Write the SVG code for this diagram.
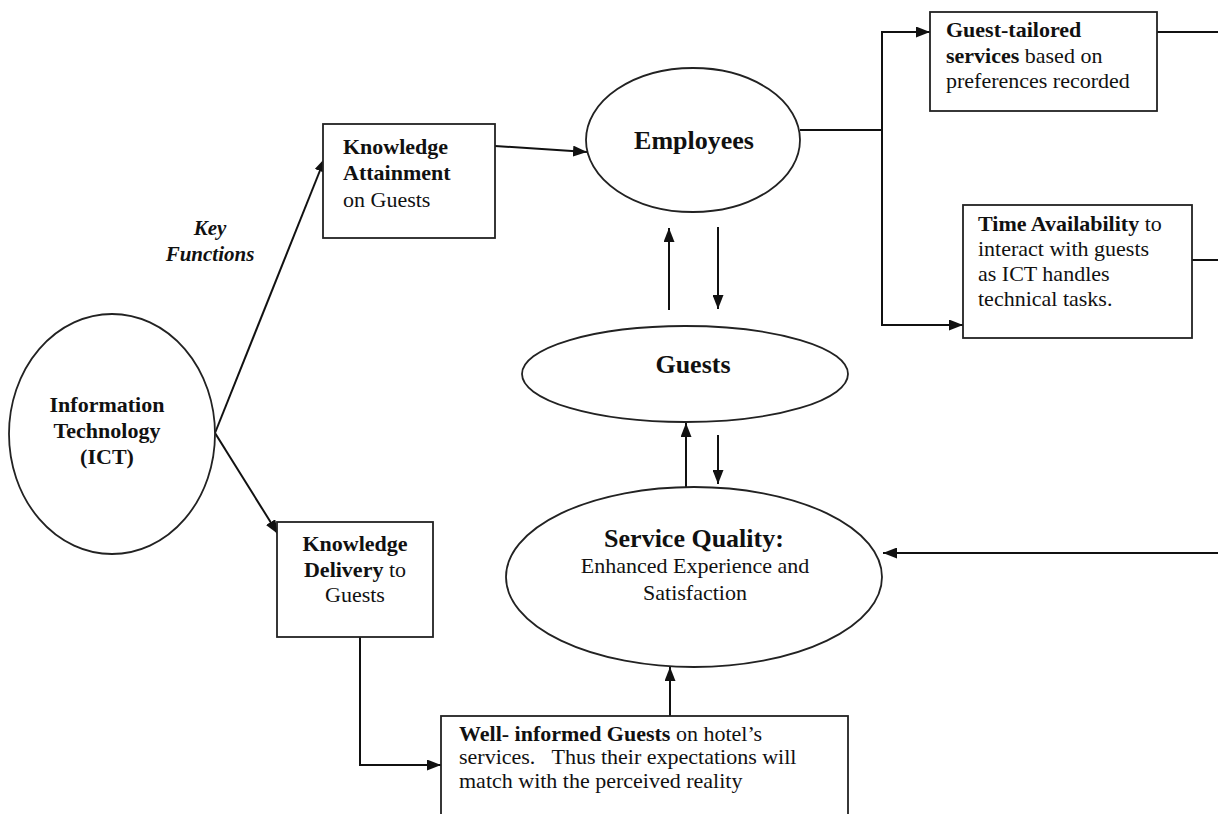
<svg xmlns="http://www.w3.org/2000/svg" width="1218" height="814" viewBox="0 0 1218 814">
<style>
.shape{fill:#fff;stroke:#222;stroke-width:1.8}
.con{fill:none;stroke:#111;stroke-width:2}
text{font-family:"Liberation Serif","Times New Roman",serif;fill:#111}
.t{font-size:22px}
.big{font-size:26px;font-weight:bold}
.b{font-weight:bold}
</style>
<defs>
<marker id="ah" markerUnits="userSpaceOnUse" markerWidth="14" markerHeight="11" refX="14" refY="5.5" orient="auto">
<path d="M0,0 L14,5.5 L0,11 z" fill="#111"/>
</marker>
</defs>
<rect width="1218" height="814" fill="#fff"/>

<g id="connectors">
<path class="con" d="M215,433 L325,158" marker-end="url(#ah)"/>
<path class="con" d="M215,433 L278,534" marker-end="url(#ah)"/>
<path class="con" d="M495,146 L587,152" marker-end="url(#ah)"/>
<path class="con" d="M800,130 H882"/>
<path class="con" d="M882,130 V32 H930" marker-end="url(#ah)"/>
<path class="con" d="M882,130 V325 H963" marker-end="url(#ah)"/>
<path class="con" d="M1157,32 H1218"/>
<path class="con" d="M1192,260 H1218"/>
<path class="con" d="M1218,553 H883" marker-end="url(#ah)"/>
<path class="con" d="M669,310 V228" marker-end="url(#ah)"/>
<path class="con" d="M718,227 V309" marker-end="url(#ah)"/>
<path class="con" d="M686,487 V423" marker-end="url(#ah)"/>
<path class="con" d="M718,435 V484" marker-end="url(#ah)"/>
<path class="con" d="M360,637 V765 H441" marker-end="url(#ah)"/>
<path class="con" d="M670,716 V667" marker-end="url(#ah)"/>
</g>

<g id="ict">
<ellipse class="shape" cx="112" cy="434" rx="103" ry="120"/>
<text class="t b" text-anchor="middle"><tspan x="107" y="412">Information</tspan><tspan x="107" y="438">Technology</tspan><tspan x="107" y="464">(ICT)</tspan></text>
</g>

<g id="key-functions">
<text class="b" font-size="21" font-style="italic" text-anchor="middle"><tspan x="210" y="235">Key</tspan><tspan x="210" y="261">Functions</tspan></text>
</g>

<g id="knowledge-attainment">
<rect class="shape" x="323" y="124" width="172" height="114"/>
<text class="t"><tspan class="b" x="343" y="154">Knowledge</tspan><tspan class="b" x="343" y="180">Attainment</tspan><tspan x="343" y="207">on Guests</tspan></text>
</g>

<g id="knowledge-delivery">
<rect class="shape" x="277" y="522" width="156" height="115"/>
<text class="t" text-anchor="middle"><tspan class="b" x="355" y="551">Knowledge</tspan><tspan x="355" y="577"><tspan class="b">Delivery</tspan> to</tspan><tspan x="355" y="602">Guests</tspan></text>
</g>

<g id="employees">
<ellipse class="shape" cx="693" cy="140" rx="107" ry="72"/>
<text class="big" x="694" y="149" text-anchor="middle">Employees</text>
</g>

<g id="guests">
<ellipse class="shape" cx="685" cy="374" rx="163" ry="48"/>
<text class="big" x="693" y="373" text-anchor="middle">Guests</text>
</g>

<g id="service-quality">
<ellipse class="shape" cx="694" cy="577" rx="188" ry="90"/>
<text class="big" x="694" y="547" text-anchor="middle">Service Quality:</text>
<text class="t" text-anchor="middle"><tspan x="695" y="573">Enhanced Experience and</tspan><tspan x="695" y="600">Satisfaction</tspan></text>
</g>

<g id="guest-tailored">
<rect class="shape" x="930" y="12" width="227" height="99"/>
<text class="t"><tspan class="b" x="946" y="37">Guest-tailored</tspan><tspan x="946" y="63"><tspan class="b">services</tspan> based on</tspan><tspan x="946" y="88">preferences recorded</tspan></text>
</g>

<g id="time-availability">
<rect class="shape" x="963" y="205" width="229" height="133"/>
<text class="t"><tspan x="978" y="231"><tspan class="b">Time Availability</tspan> to</tspan><tspan x="978" y="256">interact with guests</tspan><tspan x="978" y="281">as ICT handles</tspan><tspan x="978" y="306">technical tasks.</tspan></text>
</g>

<g id="well-informed">
<rect class="shape" x="441" y="716" width="407" height="110"/>
<text class="t" style="white-space:pre"><tspan x="459" y="741"><tspan class="b">Well- informed Guests</tspan> on hotel’s</tspan><tspan x="459" y="764">services.   Thus their expectations will</tspan><tspan x="459" y="788">match with the perceived reality</tspan></text>
</g>
</svg>
